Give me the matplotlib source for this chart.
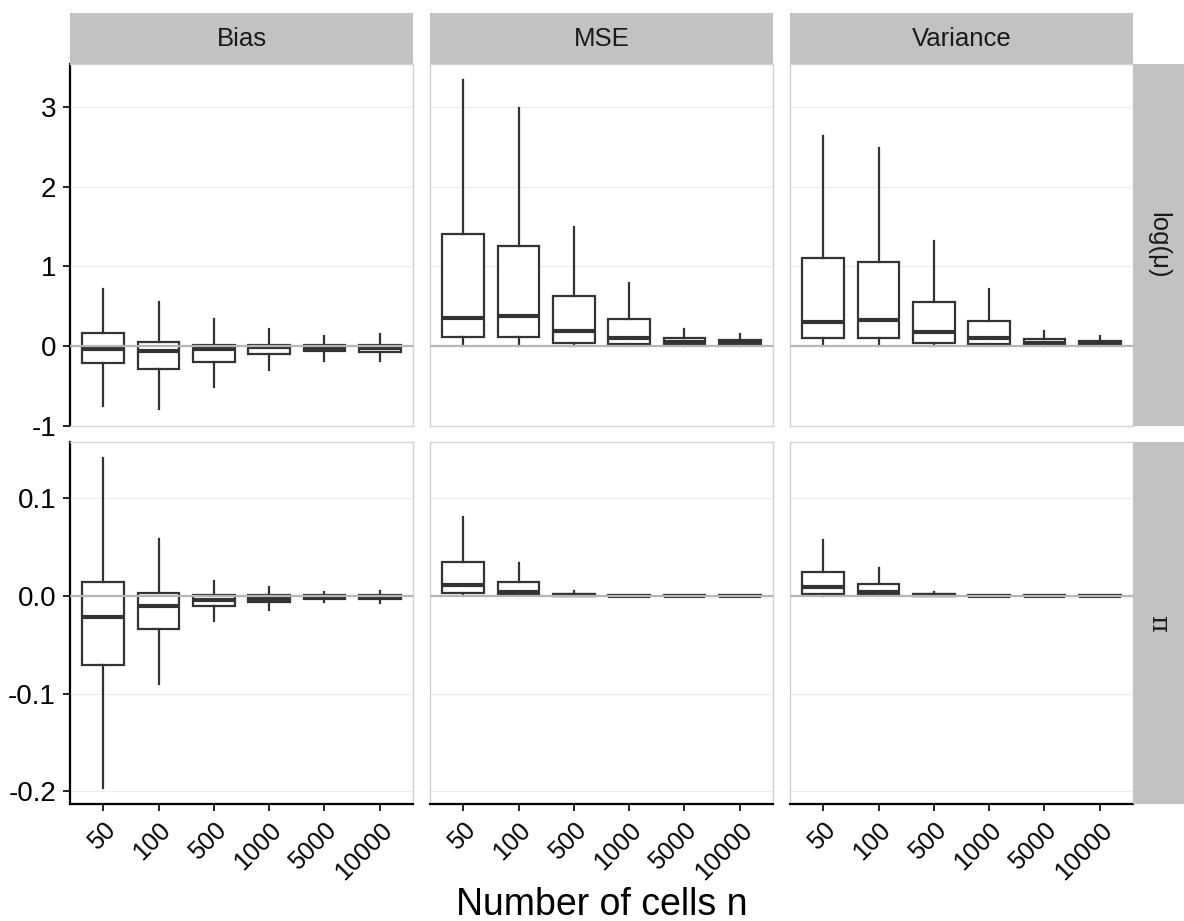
import matplotlib
matplotlib.use("Agg")
import matplotlib.pyplot as plt
from matplotlib.patches import Rectangle

plt.rcParams['font.family'] = ['Liberation Sans', 'DejaVu Sans']

# Sample sizes on the x axis
cells = ["50", "100", "500", "1000", "5000", "10000"]
metrics = ["Bias", "MSE", "Variance"]
params = ["log(μ)", "π"]

# Box summaries per panel, rows: lower whisker, Q1, median, Q3, upper whisker
mu_bias = [
    [-0.75, -0.79, -0.51, -0.30, -0.18, -0.19],
    [-0.21, -0.29, -0.20, -0.10, -0.06, -0.07],
    [-0.03, -0.06, -0.04, -0.01, -0.03, -0.02],
    [0.17, 0.05, 0.02, 0.02, 0.02, 0.02],
    [0.72, 0.56, 0.34, 0.22, 0.13, 0.15],
]
mu_mse = [
    [0.02, 0.01, 0.00, 0.00, 0.00, 0.00],
    [0.12, 0.11, 0.04, 0.03, 0.01, 0.01],
    [0.35, 0.38, 0.19, 0.10, 0.05, 0.04],
    [1.41, 1.26, 0.63, 0.34, 0.10, 0.075],
    [3.33, 2.98, 1.49, 0.79, 0.21, 0.15],
]
mu_var = [
    [0.01, 0.01, 0.00, 0.00, 0.00, 0.00],
    [0.10, 0.10, 0.04, 0.03, 0.01, 0.01],
    [0.30, 0.33, 0.18, 0.10, 0.04, 0.03],
    [1.11, 1.05, 0.56, 0.31, 0.09, 0.065],
    [2.63, 2.48, 1.32, 0.72, 0.19, 0.13],
]
pi_bias = [
    [-0.196, -0.090, -0.025, -0.0137, -0.0065, -0.007],
    [-0.070, -0.034, -0.0096, -0.0055, -0.0025, -0.0025],
    [-0.021, -0.010, -0.0035, -0.003, -0.0005, -0.0005],
    [0.0144, 0.003, 0.001, 0.001, 0.0008, 0.001],
    [0.141, 0.059, 0.0155, 0.0096, 0.0045, 0.0055],
]
pi_mse = [
    [0.0, 0.0, 0.0, 0.0, 0.0, 0.0],
    [0.0034, 0.0008, 0.0002, 0.0001, 0.0001, 0.0001],
    [0.0113, 0.004, 0.0008, 0.0003, 0.0003, 0.0003],
    [0.035, 0.0144, 0.002, 0.0008, 0.0008, 0.0008],
    [0.081, 0.0336, 0.0048, 0.0015, 0.0015, 0.0015],
]
pi_var = [
    [0.0, 0.0, 0.0, 0.0, 0.0, 0.0],
    [0.0024, 0.0008, 0.0002, 0.0001, 0.0001, 0.0001],
    [0.009, 0.0038, 0.0007, 0.0003, 0.0003, 0.0003],
    [0.025, 0.012, 0.0018, 0.0008, 0.0008, 0.0008],
    [0.0576, 0.0285, 0.0045, 0.0015, 0.0015, 0.0015],
]

panels = [[mu_bias, mu_mse, mu_var], [pi_bias, pi_mse, pi_var]]
yticks = [[-1, 0, 1, 2, 3], [-0.2, -0.1, 0.0, 0.1]]
yticklabels = [["-1", "0", "1", "2", "3"], ["-0.2", "-0.1", "0.0", "0.1"]]

W, H = 1184, 921
fig = plt.figure(figsize=(W / 100, H / 100), dpi=100)

col_left = [70, 430, 790]
col_w = 343
row_top = [64, 442]
row_h = 362
strip_top = 13
strip_right_w = 51

dark = "#333333"
border = "#d2d2d2"
strip_bg = "#c2c2c2"


def frac_rect(x0, y0, w, h):
    return [x0 / W, 1 - (y0 + h) / H, w / W, h / H]


for r, row in enumerate(panels):
    # shared y range for the row with 5% padding
    lo = min(min(p[0]) for p in row)
    hi = max(max(p[4]) for p in row)
    pad = 0.05 * (hi - lo)
    for c, stats in enumerate(row):
        ax = fig.add_axes(frac_rect(col_left[c], row_top[r], col_w, row_h))
        bxp_stats = []
        for i, lab in enumerate(cells):
            bxp_stats.append(dict(whislo=stats[0][i], q1=stats[1][i], med=stats[2][i],
                                  q3=stats[3][i], whishi=stats[4][i], label=lab, fliers=[]))
        ax.bxp(bxp_stats, positions=range(1, 7), widths=0.75, patch_artist=True,
               showfliers=False, showcaps=False,
               boxprops=dict(facecolor="white", edgecolor=dark, linewidth=1.6),
               whiskerprops=dict(color=dark, linewidth=1.6),
               medianprops=dict(color=dark, linewidth=3.0, solid_capstyle="butt"))
        ax.axhline(0, color="#b5b5b5", linewidth=1.6, zorder=5)
        ax.set_xlim(0.4, 6.6)
        ax.set_ylim(lo - pad, hi + pad)
        ax.set_yticks(yticks[r])
        ax.yaxis.grid(True, color="#ebebeb", linewidth=0.8)
        ax.xaxis.grid(False)
        ax.set_axisbelow(True)
        for s in ax.spines.values():
            s.set_color(border)
            s.set_linewidth(1.0)
        if c == 0:
            ax.spines["left"].set_color("black")
            ax.spines["left"].set_linewidth(1.6)
            ax.set_yticklabels(yticklabels[r], fontsize=20, color="black")
            ax.tick_params(axis="y", length=5, width=1.2, color="black", pad=5)
        else:
            ax.tick_params(axis="y", length=0, labelleft=False)
        if r == 1:
            ax.spines["bottom"].set_color("black")
            ax.spines["bottom"].set_linewidth(1.6)
            ax.set_xticks(range(1, 7))
            ax.set_xticklabels(cells, fontsize=18, rotation=45, ha="right",
                               va="top", rotation_mode="anchor", color="black")
            ax.tick_params(axis="x", length=5, width=1.2, color="black", pad=5)
            for t in ax.get_xticklabels():
                t.set_x(t.get_position()[0])
        else:
            ax.set_xticks(range(1, 7))
            ax.tick_params(axis="x", length=0, labelbottom=False)

        # column strip on top
        if r == 0:
            sax = fig.add_axes(frac_rect(col_left[c], strip_top, col_w, row_top[0] - strip_top))
            sax.add_patch(Rectangle((0, 0), 1, 1, facecolor=strip_bg, edgecolor="none",
                                    transform=sax.transAxes))
            sax.text(0.5, 0.5, metrics[c], ha="center", va="center", fontsize=18.5,
                     color="#1a1a1a", transform=sax.transAxes)
            sax.set_axis_off()

    # row strip on the right
    rax = fig.add_axes(frac_rect(col_left[2] + col_w, row_top[r], strip_right_w, row_h))
    rax.add_patch(Rectangle((0, 0), 1, 1, facecolor=strip_bg, edgecolor="none",
                            transform=rax.transAxes))
    rax.text(0.5, 0.5, params[r], ha="center", va="center", fontsize=18.5, rotation=-90,
             color="#1a1a1a", transform=rax.transAxes,
             family=['Liberation Sans', 'DejaVu Sans'] if r == 0 else ['DejaVu Serif'])
    rax.set_axis_off()

fig.text((col_left[0] + col_left[2] + col_w) / 2 / W, 1 - 905 / H, "Number of cells n",
         ha="center", va="center", fontsize=27, color="black")

fig.savefig("out.png", dpi=100, facecolor="white")
